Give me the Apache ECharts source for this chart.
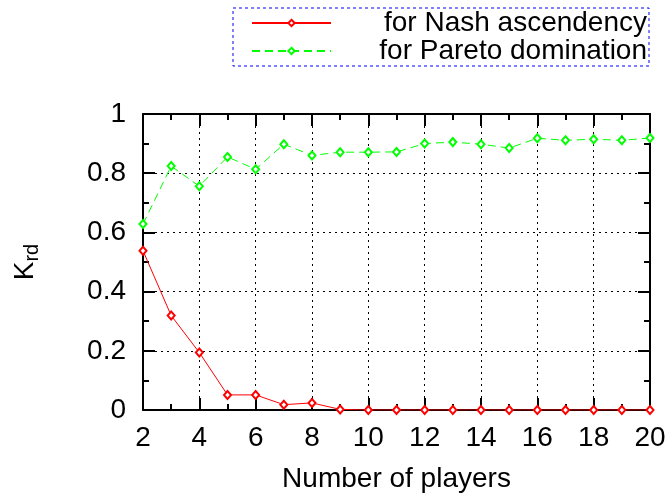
<!DOCTYPE html>
<html>
<head>
<meta charset="utf-8">
<script src="https://cdn.jsdelivr.net/npm/echarts@6/dist/echarts.min.js"></script>
<style>html,body{margin:0;padding:0;background:#fff}#c{width:670px;height:497px}</style>
</head>
<body>
<div id="c"></div>
<script>
var players = [2,3,4,5,6,7,8,9,10,11,12,13,14,15,16,17,18,19,20];
var nashValues = [0.538,0.319,0.194,0.051,0.051,0.018,0.024,0.002,0,0,0,0,0,0,0,0,0,0,0];
var paretoValues = [0.628,0.824,0.756,0.855,0.813,0.898,0.860,0.871,0.871,0.872,0.900,0.905,0.898,0.885,0.918,0.911,0.915,0.911,0.919];
var seriesNames = ['for Nash ascendency','for Pareto domination'];
var xTitle = 'Number of players';

var FONT = 'Liberation Sans, Arial, sans-serif';
var FS = 28;
var TICK = '#000';
function pairs(xs, ys){ return xs.map(function(x,i){ return [x, ys[i]]; }); }

var chart = echarts.init(document.getElementById('c'));
function frameAxis(extra){
  return Object.assign({
    type: 'value', min: 2, max: 20, interval: 2,
    axisLine: {show: true, onZero: false, lineStyle: {color: '#000', width: 2}},
    axisTick: {show: true, inside: true, length: 12, lineStyle: {color: TICK, width: 2}},
    minorTick: {show: true, splitNumber: 2, length: 6, lineStyle: {color: TICK, width: 2}},
    splitLine: {show: false}
  }, extra);
}
var option = {
  animation: false,
  grid: {left: 143, right: 20, top: 114, bottom: 87, outerBoundsMode: 'none'},
  legend: {
    orient: 'vertical', right: 21, top: 8,
    itemWidth: 79, itemHeight: 8, itemGap: 0,
    padding: [1, 2, 1, 18],
    borderColor: '#0000ff', borderWidth: 1, borderType: [3, 3],
    formatter: function(n){ return '{a|' + n + '}'; },
    textStyle: {fontSize: FS, color: '#000', fontFamily: FONT, lineHeight: 27,
      rich: {a: {fontSize: FS, color: '#000', fontFamily: FONT, width: 311, align: 'right', lineHeight: 27}}},
    data: seriesNames
  },
  xAxis: [
    frameAxis({
      position: 'bottom',
      name: xTitle, nameLocation: 'middle', nameGap: 55,
      nameTextStyle: {fontSize: FS, color: '#000', fontFamily: FONT},
      axisLabel: {show: true, fontSize: FS, color: '#000', margin: 14, fontFamily: FONT},
      splitLine: {show: true, lineStyle: {color: '#000', width: 1, type: [2, 4]}}
    }),
    frameAxis({position: 'top', axisLabel: {show: false}})
  ],
  yAxis: [
    frameAxis({
      min: 0, max: 1, interval: 0.2, position: 'left',
      name: '{k|K}{s|rd}', nameLocation: 'middle', nameGap: 101, nameRotate: 90,
      nameTextStyle: {color: '#000', fontFamily: FONT, rich: {
        k: {fontSize: FS, color: '#000', fontFamily: FONT},
        s: {fontSize: 20, color: '#000', fontFamily: FONT, padding: [14, 0, 0, 0]}
      }},
      axisLabel: {show: true, fontSize: FS, color: '#000', margin: 17, fontFamily: FONT},
      splitLine: {show: true, lineStyle: {color: '#000', width: 1, type: [2, 4]}}
    }),
    frameAxis({min: 0, max: 1, interval: 0.2, position: 'right', axisLabel: {show: false}})
  ],
  series: [
    {
      name: seriesNames[0], type: 'line', xAxisIndex: 0, yAxisIndex: 0,
      data: pairs(players, nashValues),
      symbol: 'emptyDiamond', symbolSize: [7, 8],
      itemStyle: {color: '#ff0000', borderWidth: 1},
      lineStyle: {color: '#ff0000', width: 1}
    },
    {
      name: seriesNames[1], type: 'line', xAxisIndex: 0, yAxisIndex: 0,
      data: pairs(players, paretoValues),
      symbol: 'emptyDiamond', symbolSize: [7, 8],
      itemStyle: {color: '#00ff00', borderWidth: 1},
      lineStyle: {color: '#00ff00', width: 1, type: [8, 5]}
    }
  ]
};
chart.setOption(option);
</script>
</body>
</html>
